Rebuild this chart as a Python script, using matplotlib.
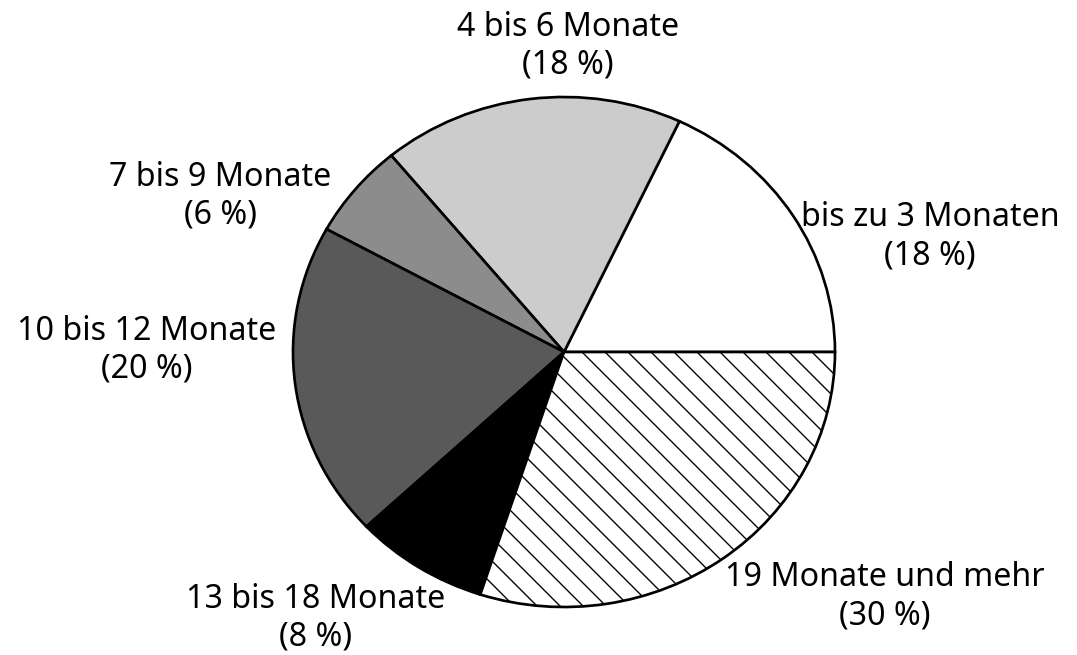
import matplotlib
matplotlib.use("Agg")
import matplotlib.pyplot as plt

# Dauer (Anteile in %)
categories = ["bis zu 3 Monaten", "4 bis 6 Monate", "7 bis 9 Monate",
              "10 bis 12 Monate", "13 bis 18 Monate", "19 Monate und mehr"]
shares = [18, 18, 6, 20, 8, 30]

colors = ["#ffffff", "#cccccc", "#8c8c8c", "#595959", "#000000", "#ffffff"]
hatches = [None, None, None, None, None, "\\\\"]

# label centres in figure pixels (x, y from top)
label_pos = [(930, 237), (568, 46), (220, 196), (147, 350), (316, 618), (885, 597)]

W, H, DPI = 1077, 655, 138
plt.rcParams["font.family"] = ["Noto Sans", "DejaVu Sans"]
plt.rcParams["hatch.linewidth"] = 0.7

fig = plt.figure(figsize=(W / DPI, H / DPI), dpi=DPI)
# pie box: x 293..835, y 97..607 (pixels from top)
ax = fig.add_axes([293 / W, 1 - 607 / H, 542 / W, 510 / H])

wedges, _ = ax.pie(shares, colors=colors, startangle=0, counterclock=True,
                   wedgeprops=dict(edgecolor="black", linewidth=1.4))
for w, h in zip(wedges, hatches):
    if h:
        w.set_hatch(h)
ax.set_aspect("auto")
ax.set_xlim(-1, 1)
ax.set_ylim(-1, 1)
ax.axis("off")

for cat, s, (px, py) in zip(categories, shares, label_pos):
    fig.text(px / W, 1 - py / H, f"{cat}\n({s} %)", ha="center", va="center",
             multialignment="center", fontsize=16.8, linespacing=1.2,
             fontweight="medium")

fig.savefig("out.png", dpi=DPI)
